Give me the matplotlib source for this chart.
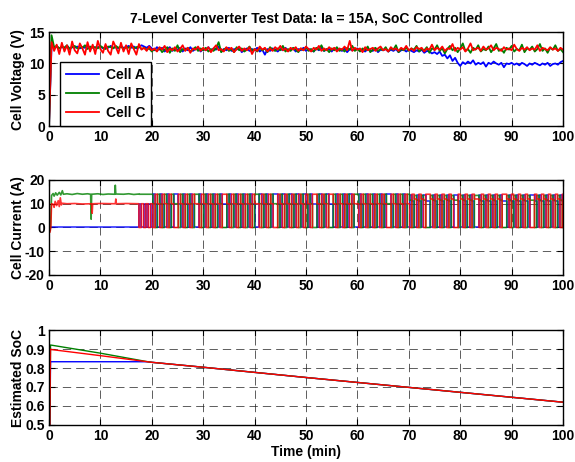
import numpy as np
import matplotlib
matplotlib.use("Agg")
import matplotlib.pyplot as plt

plt.rcParams['font.family'] = ['Liberation Sans', 'DejaVu Sans']
plt.rcParams['font.weight'] = 'bold'
plt.rcParams['font.size'] = 10
plt.rcParams['axes.unicode_minus'] = False

# ---------------- data ----------------
title = "7-Level Converter Test Data: Ia = 15A, SoC Controlled"
cell_names = ["Cell A", "Cell B", "Cell C"]
cell_colors = ["#0000ff", "#008000", "#ff0000"]

# Cell voltages sampled every 0.5 min (index i -> t = 0.5*i)
volt_step = 0.5
volt_A = [0.0, 12.9, 12.5, 12.7, 12.4, 12.6, 12.5, 12.8, 12.4, 12.6,
          12.5, 12.7, 12.4, 12.6, 12.5, 12.8, 12.4, 12.7, 12.5, 12.6,
          12.7, 12.4, 12.6, 12.5, 12.8, 12.5, 12.6, 12.4, 12.7, 12.5,
          12.6, 12.8, 12.5, 12.7, 12.4, 12.6, 12.9, 12.7, 12.5, 12.8,
          12.4, 12.1, 12.6, 12.2, 12.5, 11.9, 12.3, 12.6, 12.0, 12.4,
          12.2, 12.5, 11.9, 12.4, 12.1, 12.6, 12.0, 12.3, 12.5, 11.9,
          12.3, 12.1, 12.6, 12.0, 12.4, 12.2, 12.7, 11.9, 12.3, 12.1,
          12.5, 12.0, 12.3, 12.2, 12.6, 11.8, 12.2, 12.4, 12.0, 12.3,
          12.1, 12.5, 11.9, 12.2, 11.4, 12.3, 12.0, 12.4, 12.2, 11.9,
          12.3, 12.1, 12.5, 12.0, 12.2, 12.4, 11.9, 12.3, 12.1, 12.5,
          12.0, 12.3, 12.2, 11.9, 12.4, 12.1, 12.5, 12.0, 12.2, 12.3,
          11.9, 12.4, 12.1, 12.2, 12.0, 12.4, 11.8, 12.3, 12.1, 12.2,
          12.4, 12.0, 12.2, 11.9, 12.3, 12.1, 12.0, 12.4, 11.8, 12.2,
          12.1, 12.3, 11.9, 12.2, 12.0, 12.3, 11.8, 12.1, 12.2, 11.9,
          12.2, 12.0, 11.8, 12.1, 11.9, 12.2, 11.7, 12.0, 11.9, 11.6,
          11.8, 11.5, 11.9, 11.2, 11.4, 10.8, 11.3, 10.4, 10.9, 10.1,
          9.6, 10.2, 9.9, 10.3, 10.0, 10.5, 9.8, 10.1, 9.9, 10.2,
          9.5, 10.1, 9.9, 10.3, 10.0, 9.8, 10.1, 9.4, 10.0, 9.9,
          10.1, 9.8, 10.0, 9.7, 10.1, 9.9, 9.6, 10.0, 9.8, 10.1,
          9.9, 9.7, 10.0, 9.8, 10.1, 9.6, 9.9, 10.0, 9.8, 10.2, 10.4]
volt_B = [0.0, 14.5, 12.6, 12.8, 12.4, 12.7, 12.5, 12.9, 12.3, 12.6,
          12.8, 12.4, 12.6, 12.5, 12.9, 12.3, 12.7, 12.5, 12.6, 12.4,
          12.8, 12.5, 12.3, 12.7, 12.6, 12.4, 12.8, 12.5, 12.7, 12.3,
          12.6, 12.5, 12.8, 12.4, 12.6, 12.7, 12.3, 12.5, 12.2, 12.4,
          11.9, 12.3, 12.0, 12.5, 11.8, 12.2, 12.6, 11.7, 12.4, 12.0,
          12.9, 11.8, 12.3, 12.1, 12.5, 11.9, 12.2, 12.6, 12.0, 12.4,
          12.1, 12.5, 11.9, 12.3, 12.0, 12.4, 13.4, 11.8, 12.2, 12.5,
          12.0, 12.3, 11.8, 12.6, 12.1, 12.4, 11.9, 12.2, 12.7, 12.0,
          12.3, 11.9, 12.5, 12.1, 12.4, 11.8, 12.6, 12.2, 12.0, 12.4,
          12.1, 12.8, 11.9, 12.3, 12.0, 12.5, 12.2, 11.8, 12.4, 12.1,
          12.6, 12.0, 12.3, 11.9, 12.5, 12.2, 12.9, 12.0, 12.3, 11.8,
          12.4, 12.1, 12.6, 12.0, 12.3, 11.9, 12.5, 12.2, 12.8, 12.0,
          12.3, 11.9, 12.4, 12.1, 12.7, 11.8, 12.2, 12.5, 12.0, 12.3,
          12.1, 12.6, 11.9, 12.4, 12.2, 12.9, 11.8, 12.3, 12.1, 12.5,
          12.0, 12.4, 12.2, 12.8, 11.9, 12.3, 12.1, 12.6, 11.7, 12.4,
          12.2, 12.9, 12.0, 12.4, 11.6, 12.3, 12.8, 12.1, 12.5, 11.8,
          12.4, 13.2, 12.0, 12.3, 11.7, 12.5, 12.2, 12.9, 11.9, 12.3,
          12.1, 12.7, 11.8, 12.4, 13.1, 12.0, 12.3, 11.7, 12.5, 12.2,
          12.8, 11.9, 12.3, 12.1, 13.0, 11.8, 12.4, 12.2, 12.7, 11.9,
          12.3, 13.1, 12.0, 12.4, 11.7, 12.5, 12.2, 12.9, 12.0, 12.3, 11.8]
volt_C = [0.0,
          13.4, 12.0, 13.0, 11.5, 13.3, 11.9, 12.9, 11.4, 13.5, 12.1,
          11.6, 13.2, 12.4, 11.4, 13.4, 11.9, 13.0, 11.5, 13.6, 12.3,
          11.7, 13.1, 12.0, 11.4, 13.5, 12.6, 11.6, 13.3, 11.9, 12.9,
          11.5, 13.2, 12.3, 11.4, 13.1, 12.2,
          12.5, 12.0, 12.7, 12.1, 12.4, 11.9, 12.6, 12.2, 12.8, 11.8,
          12.4, 12.1, 12.6, 11.9, 12.3, 12.9, 12.0, 12.5, 11.7, 12.4,
          12.2, 12.7, 12.0, 12.5, 12.1, 12.6, 11.8, 12.4, 12.9, 12.1,
          12.3, 11.9, 12.6, 12.2, 12.5, 11.8, 12.3, 12.7, 12.0, 12.4,
          12.1, 12.6, 11.5, 12.3, 12.0, 12.7, 12.2, 12.5, 11.9, 12.4,
          12.0, 12.6, 12.2, 12.8, 12.1, 12.4, 11.9, 12.5, 12.2, 12.6,
          12.0, 12.4, 12.1, 12.7, 12.3, 11.9, 12.5, 12.2, 12.8, 12.0,
          12.4, 12.1, 12.6, 12.2, 12.5, 11.9, 12.4, 12.2, 12.7, 12.1,
          13.6, 12.0, 12.5, 12.2, 12.4, 11.8, 12.6, 12.1, 12.3, 12.5,
          12.0, 12.4, 12.7, 12.1, 12.3, 11.9, 12.6, 12.2, 12.4, 12.0,
          12.5, 12.2, 12.8, 12.1, 12.4, 12.0, 12.6, 12.3, 12.5, 11.9,
          12.4, 12.2, 13.0, 12.1, 12.5, 12.2, 12.7, 12.0, 12.4, 12.3,
          13.1, 12.0, 12.5, 12.2, 12.6, 11.9, 12.4, 13.2, 12.1, 12.3,
          12.5, 12.0, 12.7, 12.2, 12.4, 12.9, 12.1, 12.5, 12.3, 12.0,
          12.6, 12.2, 12.4, 12.1, 13.0, 12.3, 12.0, 12.5, 12.2, 12.6,
          12.1, 12.4, 12.2, 12.9, 12.0, 12.5, 12.3, 12.1, 12.6, 12.2,
          12.4, 12.0, 12.5, 12.2]

# Cell currents before balancing starts (t < 17.5 min)
pre_t_A = [0.0, 17.5]
pre_i_A = [0.0, 0.0]
pre_t_B = [0.0, 0.15, 0.3, 0.5, 0.8, 1.0, 1.3, 1.6, 2.0, 2.3, 2.6, 2.8, 3.5,
           4.5, 5.5, 6.5, 7.5, 8.1, 8.2, 8.3, 9.5, 10.5, 11.5, 12.8, 12.9,
           13.0, 14.5, 15.5, 16.5, 17.5]
pre_i_B = [0.0, -1.5, 0.0, 13.5, 14.3, 13.2, 14.6, 13.6, 14.8, 13.7, 15.5,
           14.0, 14.2, 13.9, 14.3, 14.0, 14.2, 14.0, 3.5, 14.0, 14.2, 13.9,
           14.1, 14.0, 17.8, 14.1, 14.0, 14.2, 13.9, 14.1]
pre_t_C = [0.0, 0.2, 0.35, 0.5, 0.8, 1.0, 1.2, 1.5, 1.8, 2.0, 2.2, 2.4, 2.6,
           3.5, 5.0, 6.5, 8.3, 8.4, 8.5, 10.0, 12.9, 13.0, 13.1, 15.0, 17.5]
pre_i_C = [0.0, -2.0, 0.0, 10.0, 9.8, 8.5, 11.0, 9.2, 11.3, 8.8, 12.5, 9.5,
           10.2, 10.0, 10.1, 9.9, 10.0, 6.0, 10.0, 10.1, 10.0, 12.0, 10.0,
           10.1, 10.0]

# Balancing schedule: one code per 0.45-min slot from t = 17.5 min
slot_start = 17.5
slot_len = 0.45
slot_codes = ("434343"
              "123123123112" "312312331231" "231231223123" "123123123312"
              "312311231231" "231231231223" "123122312312" "312331231231"
              "231231123123" "123"
              "abcabcabbcab" "cabcabcaabca" "bcabccabcabc" "abcabbcabcab"
              "cabcaabcabca" "bcabcab")
# current (A) of cells A, B, C for each slot code
code_currents = {
    '1': (14.0, 10.0, 0.0),
    '2': (10.0, 0.0, 14.0),
    '3': (0.0, 14.0, 10.0),
    '4': (10.0, 14.0, 0.0),
    'a': (13.5, 11.5, 0.0),
    'b': (11.0, 0.0, 14.0),
    'c': (0.0, 13.5, 12.0),
}

# Estimated SoC
soc_t_A = [0.0, 0.3, 19.0, 20, 30, 40, 50, 60, 70, 80, 90, 100]
soc_A = [0.0, 0.833, 0.833, 0.830, 0.804, 0.777, 0.750, 0.724, 0.698, 0.672, 0.646, 0.620]
soc_t_B = [0.0, 0.3, 10.0, 19.0, 20, 30, 40, 50, 60, 70, 80, 90, 100]
soc_B = [0.0, 0.921, 0.878, 0.834, 0.830, 0.804, 0.777, 0.750, 0.724, 0.698, 0.672, 0.646, 0.620]
soc_t_C = [0.0, 0.3, 0.5, 10.0, 20, 30, 40, 50, 60, 70, 80, 90, 100]
soc_C = [0.0, 0.900, 0.897, 0.865, 0.830, 0.804, 0.777, 0.750, 0.724, 0.698, 0.672, 0.646, 0.620]

x_ticks = [0, 10, 20, 30, 40, 50, 60, 70, 80, 90, 100]
v_ticks = [0, 5, 10, 15]
i_ticks = [-20, -10, 0, 10, 20]
soc_ticks = [0.5, 0.6, 0.7, 0.8, 0.9, 1.0]
soc_ticklabels = ["0.5", "0.6", "0.7", "0.8", "0.9", "1"]

# ---------------- figure ----------------
fig = plt.figure(figsize=(5.75, 4.62), dpi=100)
ax1 = fig.add_axes([0.0852, 0.727, 0.894, 0.2035])
ax2 = fig.add_axes([0.0852, 0.4048, 0.894, 0.2056])
ax3 = fig.add_axes([0.0852, 0.0801, 0.894, 0.2056])


def style(ax, yticks):
    ax.set_xlim(0, 100)
    ax.set_xticks(x_ticks)
    ax.set_yticks(yticks)
    ax.tick_params(direction='in', length=4, width=0.8, top=True, right=True,
                   labelsize=10, pad=3)
    for lab in ax.get_xticklabels() + ax.get_yticklabels():
        lab.set_fontweight('bold')
    for s in ax.spines.values():
        s.set_linewidth(1.0)
        s.set_color('black')
    ax.grid(True, color='#222222', linestyle=(0, (10, 6)), linewidth=0.6, alpha=0.85)
    ax.set_axisbelow(True)


# top: voltages
for vals, col, name in zip([volt_A, volt_B, volt_C], cell_colors, cell_names):
    t = volt_step * np.arange(len(vals))
    ax1.plot(t, vals, color=col, lw=1.3, label=name)
ax1.set_ylim(0, 15)
style(ax1, v_ticks)
ax1.set_ylabel("Cell Voltage (V)", fontweight='bold')
ax1.set_title(title, fontweight='bold', fontsize=10, pad=7)
leg = ax1.legend(loc='lower left', bbox_to_anchor=(0.021, 0.0), borderaxespad=0,
                 fancybox=False, framealpha=1, edgecolor='black',
                 handlelength=2.4, handletextpad=0.45, labelspacing=0.35,
                 borderpad=0.45, prop={'weight': 'bold', 'size': 10})
leg.get_frame().set_linewidth(1.0)

# middle: currents
pre_t = [pre_t_A, pre_t_B, pre_t_C]
pre_i = [pre_i_A, pre_i_B, pre_i_C]
n_slots = len(slot_codes)
edges = slot_start + slot_len * np.arange(n_slots + 1)
edges[-1] = max(edges[-1], 100.0)
for k in range(3):
    vals = np.array([code_currents[c][k] for c in slot_codes])
    xs = np.repeat(edges, 2)[1:-1]
    ys = np.repeat(vals, 2)
    x_all = np.concatenate([pre_t[k], xs])
    y_all = np.concatenate([pre_i[k], ys])
    ax2.plot(x_all, y_all, color=cell_colors[k], lw=1.2, alpha=0.8)
ax2.set_ylim(-20, 20)
style(ax2, i_ticks)
ax2.set_ylabel("Cell Current (A)", fontweight='bold')

# bottom: SoC
for tt, vv, col in zip([soc_t_A, soc_t_B, soc_t_C], [soc_A, soc_B, soc_C], cell_colors):
    ax3.plot(tt, vv, color=col, lw=1.0)
ax3.set_ylim(0.5, 1.0)
style(ax3, soc_ticks)
ax3.set_yticklabels(soc_ticklabels, fontweight='bold')
ax3.set_ylabel("Estimated SoC", fontweight='bold')
ax3.set_xlabel("Time (min)", fontweight='bold', labelpad=1)

for ax in (ax1, ax2, ax3):
    ax.yaxis.set_label_coords(-0.047, 0.5)

fig.savefig("out.png", dpi=100, facecolor='white')
